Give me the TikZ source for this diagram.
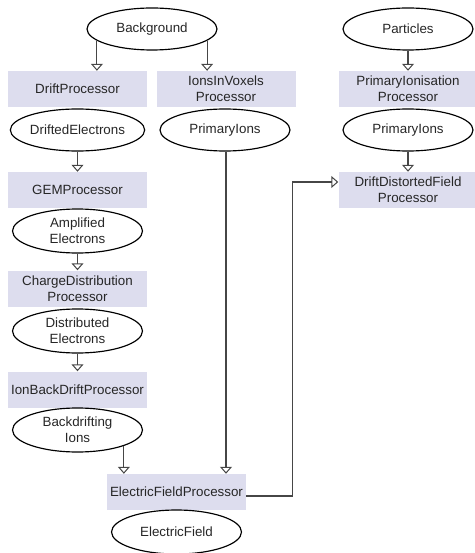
\documentclass[tikz,border=0pt]{standalone}
\usepackage{fontspec}
\setmainfont{Liberation Sans}
\usepackage{tikz}
\usetikzlibrary{shapes.geometric,arrows.meta}

\definecolor{procfill}{RGB}{221,221,238}
\definecolor{linegray}{RGB}{70,70,70}

\begin{document}
\begin{tikzpicture}[x=0.3mm, y=-0.3mm,
	every node/.style={font=\fontsize{11.4}{13.6}\selectfont, text=black!85},
	proc/.style={fill=procfill, minimum width=41.7mm, minimum height=10.8mm, inner sep=0pt, align=center},
	data/.style={draw=black, ellipse, line width=0.35mm, minimum width=39mm, minimum height=12.6mm, inner sep=0pt, align=center},
	flow/.style={draw=linegray, line width=0.35mm, -{Triangle[open, width=3.6mm, length=2.1mm, line width=0.3mm]}}]

	\useasboundingbox (0,0) rectangle (475,553);

	% left chain
	\node (Bg)[data] at (152,29) {Background};
	\node (Drift)[proc] at (77.5,89) {DriftProcessor};
	\node (DE)[data] at (77.5,130) {DriftedElectrons};
	\node (GEM)[proc] at (77.5,190) {GEMProcessor};
	\node (AE)[data, minimum height=13.2mm] at (77.5,231) {Amplified\\Electrons};
	\node (CD)[proc] at (77.5,288.5) {ChargeDistribution\\Processor};
	\node (DsE)[data, minimum height=13.2mm] at (77.5,331) {Distributed\\Electrons};
	\node (IBD)[proc] at (77.5,389.5) {IonBackDriftProcessor};
	\node (BDI)[data, minimum height=13.2mm] at (77.5,430) {Backdrifting\\Ions};

	% middle
	\node (IIV)[proc] at (226,89) {IonsInVoxels\\Processor};
	\node (PI1)[data] at (225,130) {PrimaryIons};
	\node (EFP)[proc] at (176.5,492) {ElectricFieldProcessor};
	\node (EF)[data, minimum height=13.2mm] at (176.5,532) {ElectricField};

	% right chain
	\node (Part)[data] at (408,29) {Particles};
	\node (PIP)[proc] at (408,89) {PrimaryIonisation\\Processor};
	\node (PI2)[data] at (408,130) {PrimaryIons};
	\node (DDF)[proc] at (408,190) {DriftDistortedField\\Processor};

	\draw [flow] (Bg.192) to (Bg.192 |- Drift.north);
	\draw [flow] (Bg.348) to (Bg.348 |- IIV.north);
	\draw [flow] (DE) to (GEM);
	\draw [flow] (AE) to (CD);
	\draw [flow] (DsE) to (IBD);
	\draw [flow] (BDI.341) to (BDI.341 |- EFP.north);
	\draw [flow] (PI1.south -| IIV.south) to (IIV.south |- EFP.north);

	\draw [flow] (Part) to (PIP);
	\draw [flow] (PI2) to (DDF);
	\draw [flow] ([yshift=-1.2mm]EFP.east) -- ++(46,0) |- ([yshift=2.4mm]DDF.west);

\end{tikzpicture}
\end{document}
